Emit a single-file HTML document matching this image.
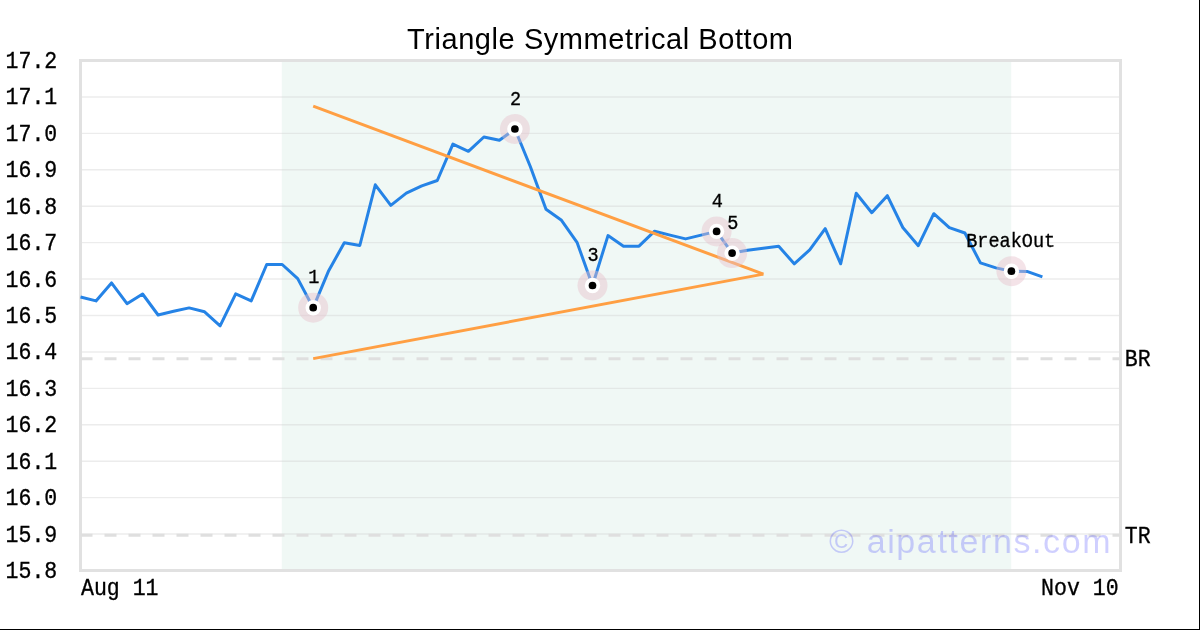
<!DOCTYPE html>
<html lang="en">
<head>
<meta charset="utf-8">
<title>Triangle Symmetrical Bottom</title>
<style>
html,body{margin:0;padding:0;background:#fff;}
body{width:1200px;height:630px;overflow:hidden;font-family:"Liberation Sans",sans-serif;}
#chart{position:absolute;left:0;top:0;width:1200px;height:630px;background:#fff;}
svg{display:block;will-change:transform;}
text{white-space:pre;}
</style>
</head>
<body>
<div id="chart">
<svg width="1200" height="630" viewBox="0 0 1200 630">
<rect x="0" y="0" width="1200" height="630" fill="#ffffff"/>

<rect x="281.8" y="60.5" width="729.4" height="510" fill="rgb(105,185,155)" fill-opacity="0.1"/>
<g stroke="#d0d0d0" stroke-opacity="0.4" stroke-width="1.4" fill="none">
<line x1="80.5" x2="1120.5" y1="96.93" y2="96.93"/>
<line x1="80.5" x2="1120.5" y1="133.36" y2="133.36"/>
<line x1="80.5" x2="1120.5" y1="169.79" y2="169.79"/>
<line x1="80.5" x2="1120.5" y1="206.21" y2="206.21"/>
<line x1="80.5" x2="1120.5" y1="242.64" y2="242.64"/>
<line x1="80.5" x2="1120.5" y1="279.07" y2="279.07"/>
<line x1="80.5" x2="1120.5" y1="315.50" y2="315.50"/>
<line x1="80.5" x2="1120.5" y1="351.93" y2="351.93"/>
<line x1="80.5" x2="1120.5" y1="388.36" y2="388.36"/>
<line x1="80.5" x2="1120.5" y1="424.79" y2="424.79"/>
<line x1="80.5" x2="1120.5" y1="461.21" y2="461.21"/>
<line x1="80.5" x2="1120.5" y1="497.64" y2="497.64"/>
<line x1="80.5" x2="1120.5" y1="534.07" y2="534.07"/>
</g>
<rect x="80.5" y="60.5" width="1040" height="510" fill="none" stroke="#e1e1e1" stroke-width="3"/>
<g stroke="#dfdfdf" stroke-width="3" stroke-dasharray="12 12" fill="none">
<line x1="80.5" x2="1120.5" y1="358.8" y2="358.8"/>
<line x1="80.5" x2="1120.5" y1="535.3" y2="535.3"/>
</g>
<polyline points="80.5,297.0 96.0,300.9 111.5,282.9 127.0,303.7 142.6,294.0 158.1,315.0 173.6,311.3 189.1,307.9 204.6,311.8 220.1,325.8 235.7,293.8 251.2,300.9 266.7,264.5 282.2,264.5 297.7,278.6 313.2,307.7 328.7,270.7 344.3,242.8 359.8,245.5 375.3,184.8 390.8,205.4 406.3,193.1 421.8,185.8 437.3,180.5 452.9,144.1 468.4,151.3 483.9,137.0 499.4,140.3 514.9,129.0 530.4,166.7 546.0,209.3 561.5,220.3 577.0,242.3 592.5,285.5 608.0,235.6 623.5,246.2 639.0,246.2 654.6,231.2 670.1,235.1 685.6,238.9 701.1,235.1 716.6,231.4 732.1,253.1 747.6,250.3 763.2,248.3 778.7,246.2 794.2,263.8 809.7,249.9 825.2,228.6 840.7,263.8 856.2,193.3 871.8,212.7 887.3,195.7 902.8,227.5 918.3,245.7 933.8,213.7 949.3,227.7 964.9,233.0 980.4,262.9 995.9,267.9 1011.4,271.2 1026.9,271.4 1042.4,276.9" fill="none" stroke="#2583e6" stroke-width="3" stroke-linejoin="round" stroke-linecap="butt"/>
<g stroke="#ff9f43" stroke-width="3" fill="none" stroke-linecap="butt">
<line x1="313.2" y1="106.2" x2="763.4" y2="274.1"/>
<line x1="313.2" y1="358.6" x2="763.4" y2="274.1"/>
</g>
<text x="829" y="553" font-family="Liberation Sans, sans-serif" font-size="34" letter-spacing="1.6" fill="#0000ff" fill-opacity="0.19">© aipatterns.com</text>
<circle cx="313.2" cy="307.7" r="15" fill="rgb(231,192,203)" fill-opacity="0.45"/>
<circle cx="514.9" cy="129.0" r="15" fill="rgb(231,192,203)" fill-opacity="0.45"/>
<circle cx="592.5" cy="285.5" r="15" fill="rgb(231,192,203)" fill-opacity="0.45"/>
<circle cx="716.6" cy="231.4" r="15" fill="rgb(231,192,203)" fill-opacity="0.45"/>
<circle cx="732.1" cy="253.1" r="15" fill="rgb(231,192,203)" fill-opacity="0.45"/>
<circle cx="1011.4" cy="271.2" r="15" fill="rgb(231,192,203)" fill-opacity="0.45"/>
<circle cx="313.2" cy="307.7" r="7.7" fill="#fff"/><circle cx="313.2" cy="307.7" r="3.85" fill="#000"/>
<circle cx="514.9" cy="129.0" r="7.7" fill="#fff"/><circle cx="514.9" cy="129.0" r="3.85" fill="#000"/>
<circle cx="592.5" cy="285.5" r="7.7" fill="#fff"/><circle cx="592.5" cy="285.5" r="3.85" fill="#000"/>
<circle cx="716.6" cy="231.4" r="7.7" fill="#fff"/><circle cx="716.6" cy="231.4" r="3.85" fill="#000"/>
<circle cx="732.1" cy="253.1" r="7.7" fill="#fff"/><circle cx="732.1" cy="253.1" r="3.85" fill="#000"/>
<circle cx="1011.4" cy="271.2" r="7.7" fill="#fff"/><circle cx="1011.4" cy="271.2" r="3.85" fill="#000"/>
<text transform="translate(313.83 283.20) scale(1 1.070)" font-family="Liberation Mono, monospace" font-size="18.55" text-anchor="middle" fill="#000" stroke="#000" stroke-width="0.3">1</text>
<text transform="translate(515.52 104.50) scale(1 1.070)" font-family="Liberation Mono, monospace" font-size="18.55" text-anchor="middle" fill="#000" stroke="#000" stroke-width="0.3">2</text>
<text transform="translate(593.10 261.00) scale(1 1.070)" font-family="Liberation Mono, monospace" font-size="18.55" text-anchor="middle" fill="#000" stroke="#000" stroke-width="0.3">3</text>
<text transform="translate(717.22 206.90) scale(1 1.070)" font-family="Liberation Mono, monospace" font-size="18.55" text-anchor="middle" fill="#000" stroke="#000" stroke-width="0.3">4</text>
<text transform="translate(732.73 228.60) scale(1 1.070)" font-family="Liberation Mono, monospace" font-size="18.55" text-anchor="middle" fill="#000" stroke="#000" stroke-width="0.3">5</text>
<text transform="translate(1010.70 246.70) scale(1 1.070)" font-family="Liberation Mono, monospace" font-size="18.55" text-anchor="middle" fill="#000" stroke="#000" stroke-width="0.3">BreakOut</text>
<text x="600.3" y="48.8" font-family="Liberation Sans, sans-serif" font-size="29" letter-spacing="0.57" text-anchor="middle" fill="#000">Triangle Symmetrical Bottom</text>
<text transform="translate(57.30 68.05) scale(1 1.070)" font-family="Liberation Mono, monospace" font-size="21.55" text-anchor="end" fill="#000" stroke="#000" stroke-width="0.3">17.2</text>
<text transform="translate(57.30 104.48) scale(1 1.070)" font-family="Liberation Mono, monospace" font-size="21.55" text-anchor="end" fill="#000" stroke="#000" stroke-width="0.3">17.1</text>
<text transform="translate(57.30 140.91) scale(1 1.070)" font-family="Liberation Mono, monospace" font-size="21.55" text-anchor="end" fill="#000" stroke="#000" stroke-width="0.3">17.0</text>
<text transform="translate(57.30 177.34) scale(1 1.070)" font-family="Liberation Mono, monospace" font-size="21.55" text-anchor="end" fill="#000" stroke="#000" stroke-width="0.3">16.9</text>
<text transform="translate(57.30 213.76) scale(1 1.070)" font-family="Liberation Mono, monospace" font-size="21.55" text-anchor="end" fill="#000" stroke="#000" stroke-width="0.3">16.8</text>
<text transform="translate(57.30 250.19) scale(1 1.070)" font-family="Liberation Mono, monospace" font-size="21.55" text-anchor="end" fill="#000" stroke="#000" stroke-width="0.3">16.7</text>
<text transform="translate(57.30 286.62) scale(1 1.070)" font-family="Liberation Mono, monospace" font-size="21.55" text-anchor="end" fill="#000" stroke="#000" stroke-width="0.3">16.6</text>
<text transform="translate(57.30 323.05) scale(1 1.070)" font-family="Liberation Mono, monospace" font-size="21.55" text-anchor="end" fill="#000" stroke="#000" stroke-width="0.3">16.5</text>
<text transform="translate(57.30 359.48) scale(1 1.070)" font-family="Liberation Mono, monospace" font-size="21.55" text-anchor="end" fill="#000" stroke="#000" stroke-width="0.3">16.4</text>
<text transform="translate(57.30 395.91) scale(1 1.070)" font-family="Liberation Mono, monospace" font-size="21.55" text-anchor="end" fill="#000" stroke="#000" stroke-width="0.3">16.3</text>
<text transform="translate(57.30 432.34) scale(1 1.070)" font-family="Liberation Mono, monospace" font-size="21.55" text-anchor="end" fill="#000" stroke="#000" stroke-width="0.3">16.2</text>
<text transform="translate(57.30 468.76) scale(1 1.070)" font-family="Liberation Mono, monospace" font-size="21.55" text-anchor="end" fill="#000" stroke="#000" stroke-width="0.3">16.1</text>
<text transform="translate(57.30 505.19) scale(1 1.070)" font-family="Liberation Mono, monospace" font-size="21.55" text-anchor="end" fill="#000" stroke="#000" stroke-width="0.3">16.0</text>
<text transform="translate(57.30 541.62) scale(1 1.070)" font-family="Liberation Mono, monospace" font-size="21.55" text-anchor="end" fill="#000" stroke="#000" stroke-width="0.3">15.9</text>
<text transform="translate(57.30 578.05) scale(1 1.070)" font-family="Liberation Mono, monospace" font-size="21.55" text-anchor="end" fill="#000" stroke="#000" stroke-width="0.3">15.8</text>
<text transform="translate(81.00 594.50) scale(1 1.070)" font-family="Liberation Mono, monospace" font-size="21.55" text-anchor="start" fill="#000" stroke="#000" stroke-width="0.3">Aug 11</text>
<text transform="translate(1118.60 594.50) scale(1 1.070)" font-family="Liberation Mono, monospace" font-size="21.55" text-anchor="end" fill="#000" stroke="#000" stroke-width="0.3">Nov 10</text>
<text transform="translate(1124.80 366.10) scale(1 1.070)" font-family="Liberation Mono, monospace" font-size="21.55" text-anchor="start" fill="#000" stroke="#000" stroke-width="0.3">BR</text>
<text transform="translate(1124.80 542.70) scale(1 1.070)" font-family="Liberation Mono, monospace" font-size="21.55" text-anchor="start" fill="#000" stroke="#000" stroke-width="0.3">TR</text>
<rect x="1199" y="0" width="1" height="630" fill="#000"/>
<rect x="0" y="629" width="1200" height="1" fill="#000"/>
</svg>
</div>
</body>
</html>
